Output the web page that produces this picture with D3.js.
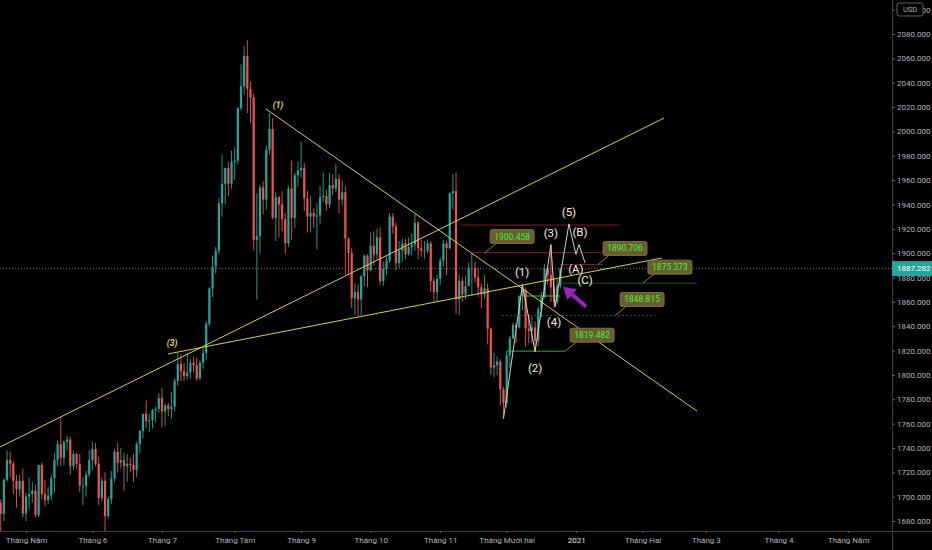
<!DOCTYPE html>
<html>
<head>
<meta charset="utf-8">
<script src="https://cdn.jsdelivr.net/npm/d3@7"></script>
<style>
  body { margin: 0; background: #000; }
  svg { display: block; font-family: Roboto, "Noto Sans", sans-serif; }
</style>
</head>
<body>
<div id="chart"></div>
<script>
// daily candles, 21 Apr 2020 .. 24 Dec 2020. bar index 0 = first bar of May
const firstBar = -8;
const opens = [
  1695,1686,1714,1730,1727,1713,1706,1713,
  1686,1700,1702,1705,1685,1726,1702,1697,1701,1715,1730,1743,1732,1745,1747,1725,1735,1727,1709,1709,1718,
  1730,1739,1727,1699,1713,1684,1698,1715,1737,1728,1730,1725,1727,1726,1722,1743,1754,1768,1762,1763,1771,1772,
  1781,1770,1775,1772,1774,1795,1809,1803,1799,1802,1810,1808,1797,1810,1818,1842,1871,1889,1902,1941,1957,1970,1957,
  1975,1976,2019,2037,2062,2035,2028,1911,1914,1954,1944,1985,2002,1929,1946,1940,1928,1908,1953,1929,1964,
  1968,1970,1945,1930,1933,1930,1931,1946,1947,1940,1956,1953,1961,1944,1950,1912,1900,1863,1868,1862,1881,1898,
  1886,1906,1899,1913,1877,1887,1894,1930,1922,1892,1902,1908,1899,1905,1907,1925,1904,1902,1902,1908,1877,1868,
  1879,1894,1908,1904,1949,1951,1862,1877,1866,1873,1888,1888,1880,1872,1866,1871,1838,1806,1808,1811,1788,
  1777,1816,1830,1841,1839,1865,1870,1838,1836,1839,1828,1854,1864,1887,1882,1872,1860,1873
];
const highs = [
  1698,1715,1738,1737,1729,1718,1718,1723,
  1703,1716,1712,1710,1726,1728,1714,1708,1718,1736,1746,1765,1746,1750,1749,1738,1736,1735,1716,1721,1738,
  1745,1744,1733,1716,1720,1700,1721,1739,1744,1740,1736,1735,1732,1735,1745,1755,1768,1779,1768,1772,1774,1785,
  1789,1776,1777,1786,1797,1818,1817,1810,1818,1813,1815,1814,1812,1822,1844,1872,1898,1905,1945,1981,1970,1975,1984,
  1987,2020,2055,2070,2075,2041,2031,1949,1956,1959,1988,2015,2011,1950,1947,1951,1933,1955,1976,1966,1975,
  1992,1974,1951,1947,1937,1941,1955,1966,1952,1966,1965,1973,1965,1960,1955,1913,1904,1875,1874,1882,1899,1899,
  1917,1918,1920,1921,1893,1898,1933,1933,1925,1910,1912,1912,1913,1916,1932,1926,1911,1910,1911,1910,1880,1882,
  1896,1911,1910,1950,1965,1966,1882,1880,1881,1892,1900,1893,1888,1875,1882,1875,1839,1818,1815,1813,1790,
  1820,1832,1843,1843,1865,1875,1872,1850,1848,1844,1856,1868,1891,1889,1907,1880,1879,1888
];
const lows = [
  1659,1680,1712,1716,1702,1691,1700,1683,
  1680,1690,1695,1683,1683,1698,1692,1694,1697,1703,1725,1725,1726,1738,1718,1722,1723,1704,1693,1700,1716,
  1722,1725,1693,1696,1670,1682,1694,1712,1720,1723,1705,1712,1720,1712,1716,1736,1748,1756,1753,1756,1761,1769,
  1757,1758,1766,1764,1770,1791,1795,1795,1796,1797,1802,1795,1796,1805,1812,1840,1864,1883,1899,1930,1940,1947,1953,
  1960,1973,2017,2030,2015,2007,1902,1862,1900,1932,1936,1981,1928,1910,1913,1918,1900,1905,1911,1921,1955,
  1962,1935,1917,1917,1921,1903,1924,1942,1935,1937,1948,1950,1933,1939,1882,1882,1855,1849,1848,1849,1873,1872,
  1885,1890,1895,1874,1873,1882,1892,1916,1886,1888,1893,1895,1898,1898,1902,1895,1897,1895,1900,1868,1860,1860,
  1874,1889,1882,1903,1936,1850,1849,1860,1862,1873,1865,1876,1864,1855,1863,1825,1800,1798,1800,1775,1764,
  1773,1806,1829,1826,1838,1853,1823,1826,1826,1819,1824,1847,1863,1874,1860,1855,1858,1871
];
const closes = [
  1686,1714,1730,1727,1713,1706,1713,1686,
  1700,1702,1705,1685,1726,1702,1697,1701,1715,1730,1743,1732,1745,1747,1725,1735,1727,1709,1709,1718,1730,
  1739,1727,1699,1713,1684,1698,1715,1737,1728,1730,1725,1727,1726,1722,1743,1754,1768,1762,1763,1771,1772,1781,
  1770,1775,1772,1774,1795,1809,1803,1799,1802,1810,1808,1797,1810,1818,1842,1871,1889,1902,1941,1957,1970,1957,1975,
  1976,2019,2037,2062,2035,2028,1911,1914,1954,1944,1985,2002,1929,1946,1940,1928,1908,1953,1929,1964,1968,
  1970,1945,1930,1933,1930,1931,1946,1947,1940,1956,1953,1961,1944,1950,1912,1900,1863,1868,1862,1881,1898,1886,
  1906,1899,1913,1877,1887,1894,1930,1922,1892,1902,1908,1899,1905,1907,1925,1904,1902,1902,1908,1877,1868,1879,
  1894,1908,1904,1949,1951,1862,1877,1866,1873,1888,1888,1880,1872,1866,1871,1838,1806,1808,1811,1788,1777,
  1816,1830,1841,1839,1865,1870,1838,1836,1839,1828,1854,1864,1887,1882,1872,1860,1873,1887.282
];

const priceTicks = [1680,1700,1720,1740,1760,1780,1800,1820,1840,1860,1880,1900,1920,1940,1960,1980,2000,2020,2040,2060,2080,2100];
const monthTicks = [0,21,43,66,87,109,131,152,174,195,215,238,260];
const monthLabels = ["Tháng Năm","Tháng 6","Tháng 7","Tháng Tám","Tháng 9","Tháng 10","Tháng 11","Tháng Mười hai","2021","Tháng Hai","Tháng 3","Tháng 4","Tháng Năm"];

// drawings, as [bar index, price]
const trendLines = [
  [[-8.2,1740.8],[201.8,2011.0]],
  [[44.9,1817.2],[201.1,1896.0]],
  [[75.9,2018.4],[212.2,1770.3]]
];
const smallLabels = ["(1)","(3)"];
const smallLabelAt = [[79.7,2021.7],[46.2,1826.2]];

const wavePath = [[151,1764],[157,1874],[161,1819],[166,1907],[167.3,1856],[171.7,1924],[173.9,1899],[174.9,1907],[176.8,1892]];
const waveLabels = ["(1)","(2)","(3)","(4)","(5)","(A)","(B)","(C)"];
const waveLabelAt = [[156.9,1884.5],[161,1805.7],[166,1916.5],[167,1843.4],[171.7,1933.8],[173.9,1887],[175.2,1917.4],[176.8,1878]];

const levelPrices = [1923.1,1900.458,1890.706,1875.373,1848.815,1819.482,1864.8];
const levelStart = [137.3,141.4,168.9,169.8,150.5,152.1,157.2];
const levelEnd = [187.8,187.2,182.5,212.2,198.9,170.5,168.9];

const calloutText = ["1900.458","1890.706","1875.373","1848.815","1819.482"];
const calloutAt = [[145.2,1900.458],[180.9,1890.706],[195.1,1875.373],[186.3,1848.815],[170.5,1819.482]];

const arrowFrom = [177.1,1856.1];
const arrowTo = [169.8,1872.4];

const W = 932, H = 550, plotW = 892, plotH = 531;

const svg = d3.select("#chart").append("svg")
  .attr("width", W)
  .attr("height", H)
  .style("background", "#000");

const x = d3.scaleLinear().domain([-8.22, 273.87]).range([0, plotW]);
const y = d3.scaleLinear().domain([1680, 2080]).range([521, 34]);

svg.append("clipPath").attr("id", "plot")
  .append("rect").attr("width", plotW).attr("height", plotH);

const plot = svg.append("g").attr("clip-path", "url(#plot)");

const bars = opens.map((o, k) => ({ i: firstBar + k, o, h: highs[k], l: lows[k], c: closes[k] }));
const up = "#26a69a", down = "#ef5350";

// last price line
const last = closes[closes.length - 1];
plot.append("line")
  .attr("x1", 0).attr("x2", plotW)
  .attr("y1", y(last)).attr("y2", y(last))
  .attr("stroke", "#6f7380").attr("stroke-dasharray", "1,2");

// candles
plot.selectAll(".wick").data(bars).enter().append("line")
  .attr("x1", d => x(d.i)).attr("x2", d => x(d.i))
  .attr("y1", d => y(d.h)).attr("y2", d => y(d.l))
  .attr("stroke", d => d.c >= d.o ? up : down)
  .attr("stroke-width", 0.9);

plot.selectAll(".body").data(bars).enter().append("rect")
  .attr("x", d => x(d.i) - 1.1)
  .attr("width", 2.2)
  .attr("y", d => y(Math.max(d.o, d.c)))
  .attr("height", d => Math.max(0.8, Math.abs(y(d.o) - y(d.c))))
  .attr("fill", d => d.c >= d.o ? up : down);

// horizontal levels
const levelStyle = [
  { stroke: "#7d1d1d", dash: null },
  { stroke: "#7d1d1d", dash: null },
  { stroke: "#7d1d1d", dash: null },
  { stroke: "#1f5a1f", dash: null },
  { stroke: "#1f6a1f", dash: "2,2" },
  { stroke: "#2fa52f", dash: null },
  { stroke: "#3fbf3f", dash: null }
];
plot.selectAll(".level").data(levelPrices).enter().append("line")
  .attr("x1", (d, k) => x(levelStart[k]))
  .attr("x2", (d, k) => x(levelEnd[k]))
  .attr("y1", d => y(d)).attr("y2", d => y(d))
  .attr("stroke", (d, k) => levelStyle[k].stroke)
  .attr("stroke-dasharray", (d, k) => levelStyle[k].dash)
  .attr("stroke-width", 1);

// trend lines
plot.selectAll(".trend").data(trendLines).enter().append("line")
  .attr("x1", d => x(d[0][0])).attr("y1", d => y(d[0][1]))
  .attr("x2", d => x(d[1][0])).attr("y2", d => y(d[1][1]))
  .attr("stroke", "#d6d23c")
  .attr("stroke-width", 1);

plot.selectAll(".small-label").data(smallLabels).enter().append("text")
  .attr("x", (d, k) => x(smallLabelAt[k][0]))
  .attr("y", (d, k) => y(smallLabelAt[k][1]))
  .attr("text-anchor", "middle")
  .attr("dominant-baseline", "central")
  .attr("font-size", 8.5)
  .attr("font-style", "italic")
  .attr("font-weight", "bold")
  .attr("fill", "#e6d84a")
  .text(d => d);

// elliott wave path
plot.append("path")
  .datum(wavePath)
  .attr("d", d3.line().x(d => x(d[0])).y(d => y(d[1])))
  .attr("fill", "none")
  .attr("stroke", "#d9d2b8")
  .attr("stroke-width", 1);

plot.selectAll(".wave-label").data(waveLabels).enter().append("text")
  .attr("x", (d, k) => x(waveLabelAt[k][0]))
  .attr("y", (d, k) => y(waveLabelAt[k][1]))
  .attr("text-anchor", "middle")
  .attr("dominant-baseline", "central")
  .attr("font-size", 11.5)
  .attr("fill", "#f3eed8")
  .text(d => d);

// price callouts
const callouts = plot.selectAll(".callout").data(calloutText).enter().append("g")
  .attr("transform", (d, k) => `translate(${x(calloutAt[k][0])},${y(calloutAt[k][1])})`);
callouts.append("line")
  .attr("x1", 0).attr("y1", 0).attr("x2", 11).attr("y2", -9)
  .attr("stroke", "#8c7d43").attr("stroke-width", 1);
callouts.append("rect")
  .attr("x", 5).attr("y", -23).attr("width", 44).attr("height", 14).attr("rx", 2)
  .attr("fill", "#6a5e2f").attr("stroke", "#8c7d43").attr("stroke-width", 0.8);
callouts.append("text")
  .attr("x", 27).attr("y", -16)
  .attr("text-anchor", "middle")
  .attr("dominant-baseline", "central")
  .attr("font-size", 8.5)
  .attr("fill", "#3cf03c")
  .text(d => d);

// purple arrow
{
  const tx = x(arrowTo[0]), ty = y(arrowTo[1]);
  const fx = x(arrowFrom[0]), fy = y(arrowFrom[1]);
  const len = Math.hypot(tx - fx, ty - fy);
  const ux = (tx - fx) / len, uy = (ty - fy) / len;
  const headL = 12, headW = 7;
  const bx = tx - ux * headL, by = ty - uy * headL;
  plot.append("line")
    .attr("x1", fx).attr("y1", fy).attr("x2", bx).attr("y2", by)
    .attr("stroke", "#9c22c0").attr("stroke-width", 4);
  plot.append("path")
    .attr("d", `M${tx},${ty}L${bx - uy * headW},${by + ux * headW}L${bx + uy * headW},${by - ux * headW}Z`)
    .attr("fill", "#9c22c0");
}

// axes
const axisColor = "#3b3e47", textColor = "#b2b5be";

svg.append("line").attr("x1", plotW + 0.5).attr("x2", plotW + 0.5).attr("y1", 0).attr("y2", H)
  .attr("stroke", axisColor);
svg.append("line").attr("x1", 0).attr("x2", W).attr("y1", plotH + 0.5).attr("y2", plotH + 0.5)
  .attr("stroke", axisColor);

const yAxis = svg.append("g")
  .attr("transform", `translate(${plotW},0)`)
  .call(d3.axisRight(y).tickValues(priceTicks).tickSize(3).tickPadding(2).tickFormat(d3.format(".3f")));
yAxis.select(".domain").remove();
yAxis.selectAll(".tick line").attr("stroke", "#666");
yAxis.selectAll(".tick text").attr("fill", textColor).attr("font-size", 8).attr("font-family", "Roboto");

const xAxis = svg.append("g")
  .attr("transform", `translate(0,${plotH})`)
  .call(d3.axisBottom(x).tickValues(monthTicks).tickSize(2).tickPadding(4).tickFormat((d, k) => monthLabels[k]));
xAxis.select(".domain").remove();
xAxis.selectAll(".tick line").attr("stroke", "#666");
xAxis.selectAll(".tick text")
  .attr("fill", (d, k) => monthLabels[k] === "2021" ? "#e0e3eb" : textColor)
  .attr("font-size", 8).attr("font-family", "Roboto");

// last price tag
svg.append("rect")
  .attr("x", plotW).attr("y", y(last) - 7.5).attr("width", W - plotW).attr("height", 15)
  .attr("fill", "#26a69a");
svg.append("text")
  .attr("x", plotW + 5).attr("y", y(last))
  .attr("dominant-baseline", "central")
  .attr("font-size", 8).attr("fill", "#fff")
  .text(d3.format(".3f")(last));

// currency badge
svg.append("rect")
  .attr("x", 897).attr("y", 3).attr("width", 26).attr("height", 13).attr("rx", 2)
  .attr("fill", "#000").attr("stroke", "#5d606b");
svg.append("text")
  .attr("x", 910).attr("y", 9.5)
  .attr("text-anchor", "middle").attr("dominant-baseline", "central")
  .attr("font-size", 7.5).attr("fill", textColor)
  .text("USD");
</script>
</body>
</html>
